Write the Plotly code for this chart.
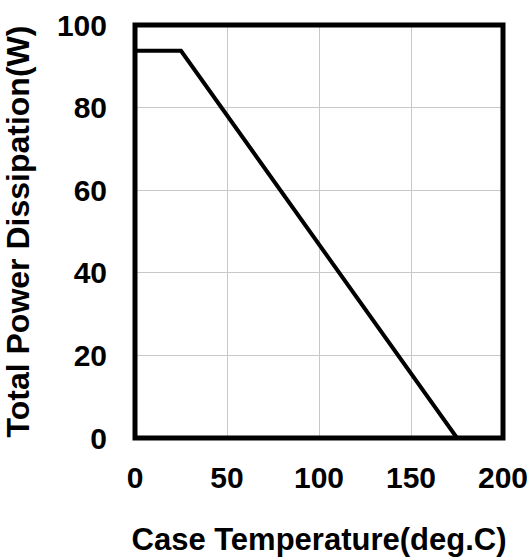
import plotly.graph_objects as go

temp_c = [0, 25, 175]
power_w = [93.75, 93.75, 0]
x_ticks = [0, 50, 100, 150, 200]
y_ticks = [0, 20, 40, 60, 80, 100]

FONT = "Liberation Sans, Arial, sans-serif"
TICK_SIZE = 30
TITLE_SIZE = 31

fig = go.Figure()
fig.add_trace(go.Scatter(x=temp_c, y=power_w, mode="lines",
                         line=dict(color="black", width=4), showlegend=False))

fig.update_layout(
    width=531, height=558,
    margin=dict(l=135, r=28, t=25, b=120),
    plot_bgcolor="white", paper_bgcolor="white",
    font=dict(family=FONT, size=TICK_SIZE, color="black"),
    shapes=[dict(type="rect", xref="paper", yref="paper", x0=0, y0=0, x1=1, y1=1,
                 line=dict(color="black", width=5), layer="above")],
)
fig.update_xaxes(range=[0, 200], tickvals=x_ticks, showgrid=True, gridcolor="#c8c8c8", gridwidth=1,
                 zeroline=False, showline=False, ticks="", ticklabelstandoff=19, automargin=False,
                 tickfont=dict(family=FONT, size=TICK_SIZE, weight="bold"),
                 title=dict(text="<b>Case Temperature(deg.C)</b>", standoff=35,
                            font=dict(family=FONT, size=TITLE_SIZE)))
fig.update_yaxes(range=[0, 100], tickvals=y_ticks, showgrid=True, gridcolor="#c8c8c8", gridwidth=1,
                 zeroline=False, showline=False, ticks="", ticklabelstandoff=27, automargin=False,
                 tickfont=dict(family=FONT, size=TICK_SIZE, weight="bold"),
                 title=dict(text="<b>Total Power Dissipation(W)</b>", standoff=17,
                            font=dict(family=FONT, size=32)))
fig.write_html("out.html")
